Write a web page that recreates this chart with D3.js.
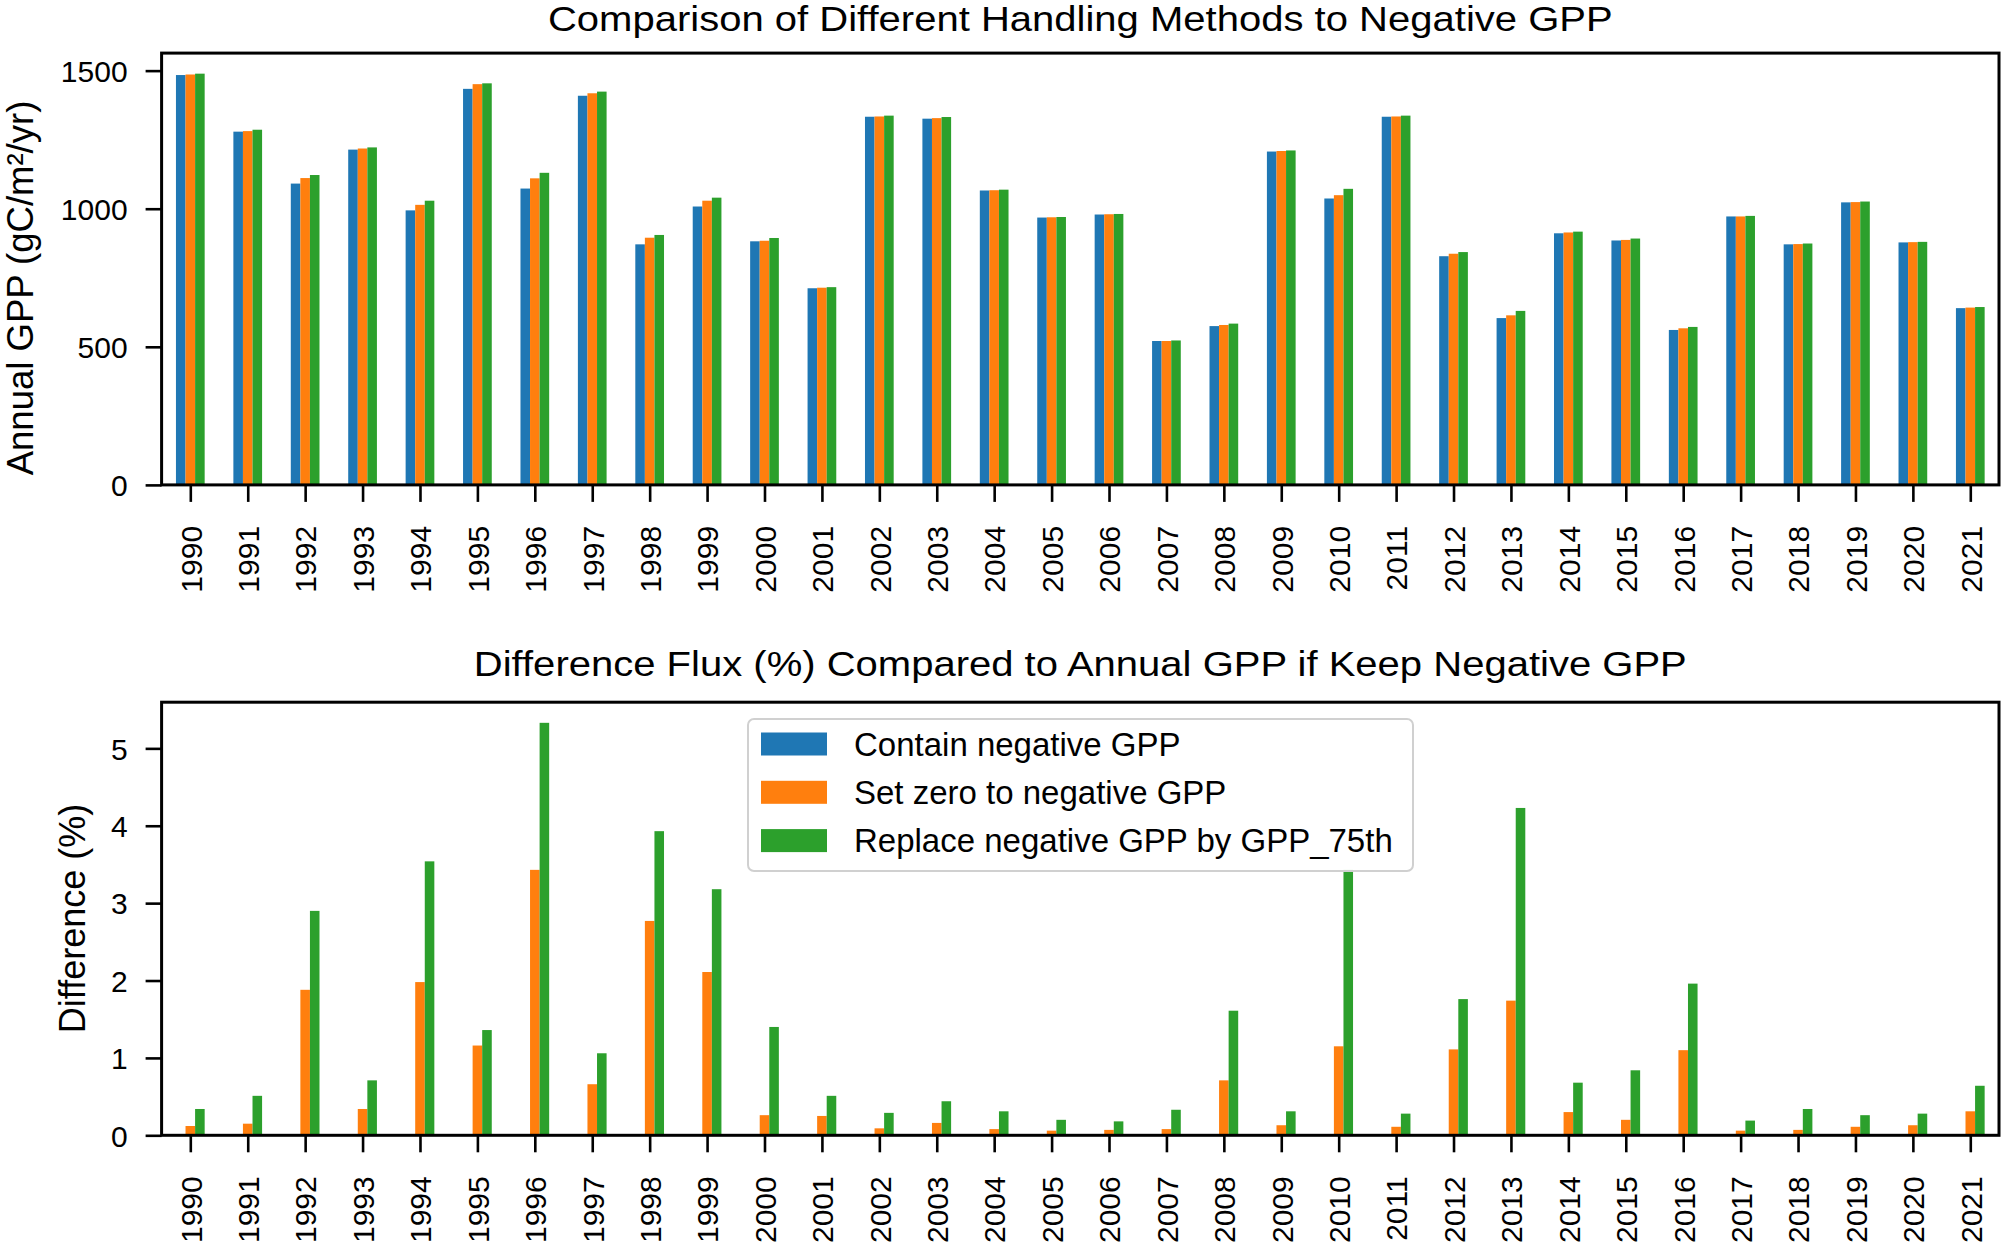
<!DOCTYPE html>
<html>
<head>
<meta charset="utf-8">
<script src="https://cdn.jsdelivr.net/npm/d3@7"></script>
<style>
  body { margin: 0; background: #fff; }
  text { font-family: "Liberation Sans", Arial, sans-serif; fill: #000; }
</style>
</head>
<body>
<script>
const years = ["1990","1991","1992","1993","1994","1995","1996","1997","1998","1999","2000","2001","2002","2003","2004","2005","2006","2007","2008","2009","2010","2011","2012","2013","2014","2015","2016","2017","2018","2019","2020","2021"];

const seriesNames = ["Contain negative GPP", "Set zero to negative GPP", "Replace negative GPP by GPP_75th"];
const colors = ["#1f77b4", "#ff7f0e", "#2ca02c"];

// annual GPP (gC/m2/yr)
const gppContain = [1484,1279,1091,1214,994,1434,1073,1409,871,1008,882,712,1333,1326,1066,968,979,521,575,1207,1037,1333,828,604,911,885,561,972,871,1023,878,640];
const gppSetZero = [1486,1281,1111,1218,1014,1451,1110,1418,895,1029,884,714,1334,1328,1067,969,980,521,579,1209,1049,1334,837,614,914,887,567,972,872,1024,879,642];
const gppReplace = [1489,1286,1122,1222,1029,1454,1130,1424,905,1040,894,716,1337,1332,1069,970,981,523,584,1211,1072,1337,843,630,917,892,572,974,874,1026,880,644];

// difference (%) vs keeping negative GPP
const diffContain = [0,0,0,0,0,0,0,0,0,0,0,0,0,0,0,0,0,0,0,0,0,0,0,0,0,0,0,0,0,0,0,0];
const diffSetZero = [0.12,0.15,1.88,0.34,1.98,1.16,3.43,0.66,2.77,2.11,0.26,0.25,0.09,0.16,0.08,0.06,0.07,0.08,0.71,0.13,1.15,0.11,1.11,1.74,0.30,0.20,1.10,0.06,0.07,0.11,0.13,0.31];
const diffReplace = [0.34,0.51,2.90,0.71,3.54,1.36,5.33,1.06,3.93,3.18,1.40,0.51,0.29,0.44,0.31,0.20,0.18,0.33,1.61,0.31,3.43,0.28,1.76,4.23,0.68,0.84,1.96,0.19,0.34,0.26,0.28,0.64];

const gppTicks = [0, 500, 1000, 1500];
const diffTicks = [0, 1, 2, 3, 4, 5];

const W = 2002, H = 1243;
const left = 161.6, right = 1999;

const svg = d3.select("body").append("svg")
  .attr("width", W)
  .attr("height", H);

function panel(opts) {
  const g = svg.append("g");
  const x = d3.scaleLinear().domain([-0.5, years.length - 0.5]).range([left, right]);
  const ymax = d3.max(opts.series.flat()) * 1.05;
  const y = d3.scaleLinear().domain([0, ymax]).range([opts.bottom, opts.top]);
  const bw = 0.5 / opts.series.length;

  opts.series.forEach((vals, k) => {
    g.append("g").selectAll("rect")
      .data(vals)
      .join("rect")
      .attr("x", (d, i) => x(i - 0.25 + k * bw))
      .attr("width", x(bw) - x(0))
      .attr("y", d => y(d))
      .attr("height", d => y(0) - y(d))
      .attr("fill", colors[k]);
  });

  // y axis
  const yAxis = g.append("g")
    .attr("transform", `translate(${left},0)`)
    .call(d3.axisLeft(y).tickValues(opts.ticks).tickFormat(d3.format("d")).tickSize(16).tickPadding(18));
  yAxis.select(".domain").remove();
  yAxis.selectAll(".tick line").attr("stroke-width", 2.6);
  yAxis.selectAll(".tick text").style("font-size", "30px").attr("dy", "0.36em");

  // x axis
  const xAxis = g.append("g")
    .attr("transform", `translate(0,${opts.bottom})`)
    .call(d3.axisBottom(x).tickValues(d3.range(years.length)).tickFormat(i => years[i]).tickSize(17));
  xAxis.select(".domain").remove();
  xAxis.selectAll(".tick line").attr("stroke-width", 2.6);
  xAxis.selectAll(".tick text")
    .style("font-size", "30px")
    .attr("text-anchor", "end")
    .attr("transform", "rotate(-90)")
    .attr("x", -41)
    .attr("y", 0)
    .attr("dy", "0.36em");

  // frame
  g.append("rect")
    .attr("x", left).attr("y", opts.top)
    .attr("width", right - left).attr("height", opts.bottom - opts.top)
    .attr("fill", "none").attr("stroke", "#000").attr("stroke-width", 3);

  // title: glyphs in the reference are a bit wider than tall, stretch slightly
  g.append("text")
    .attr("transform", `translate(${(left + right) / 2},${opts.titleY}) scale(1.16,1)`)
    .attr("text-anchor", "middle")
    .style("font-size", "34.5px")
    .text(opts.title);

  g.append("text")
    .attr("transform", `translate(${opts.labelX},${opts.labelY}) rotate(-90)`)
    .attr("text-anchor", "middle")
    .style("font-size", opts.labelSize)
    .text(opts.ylabel);

  return g;
}

panel({
  top: 53.1, bottom: 484.9, titleY: 31, labelX: 32.5, labelY: 288, labelSize: "36.5px",
  series: [gppContain, gppSetZero, gppReplace],
  ticks: gppTicks,
  title: "Comparison of Different Handling Methods to Negative GPP",
  ylabel: "Annual GPP (gC/m\u00B2/yr)"
});

const bottomPanel = panel({
  top: 702.2, bottom: 1135.3, titleY: 675.5, labelX: 85, labelY: 918.5, labelSize: "36px",
  series: [diffContain, diffSetZero, diffReplace],
  ticks: diffTicks,
  title: "Difference Flux (%) Compared to Annual GPP if Keep Negative GPP",
  ylabel: "Difference (%)"
});

// legend
const lg = bottomPanel.append("g");
lg.append("rect")
  .attr("x", 748).attr("y", 719)
  .attr("width", 665).attr("height", 152)
  .attr("rx", 6).attr("ry", 6)
  .attr("fill", "#fff").attr("fill-opacity", 0.8)
  .attr("stroke", "#d0d0d0").attr("stroke-width", 2);

seriesNames.forEach((name, k) => {
  const cy = 744 + k * 48.3;
  lg.append("rect")
    .attr("x", 761).attr("y", cy - 11.5)
    .attr("width", 66).attr("height", 23)
    .attr("fill", colors[k]);
  lg.append("text")
    .attr("x", 854).attr("y", cy)
    .attr("dy", "0.36em")
    .style("font-size", "33px")
    .text(name);
});
</script>
</body>
</html>
